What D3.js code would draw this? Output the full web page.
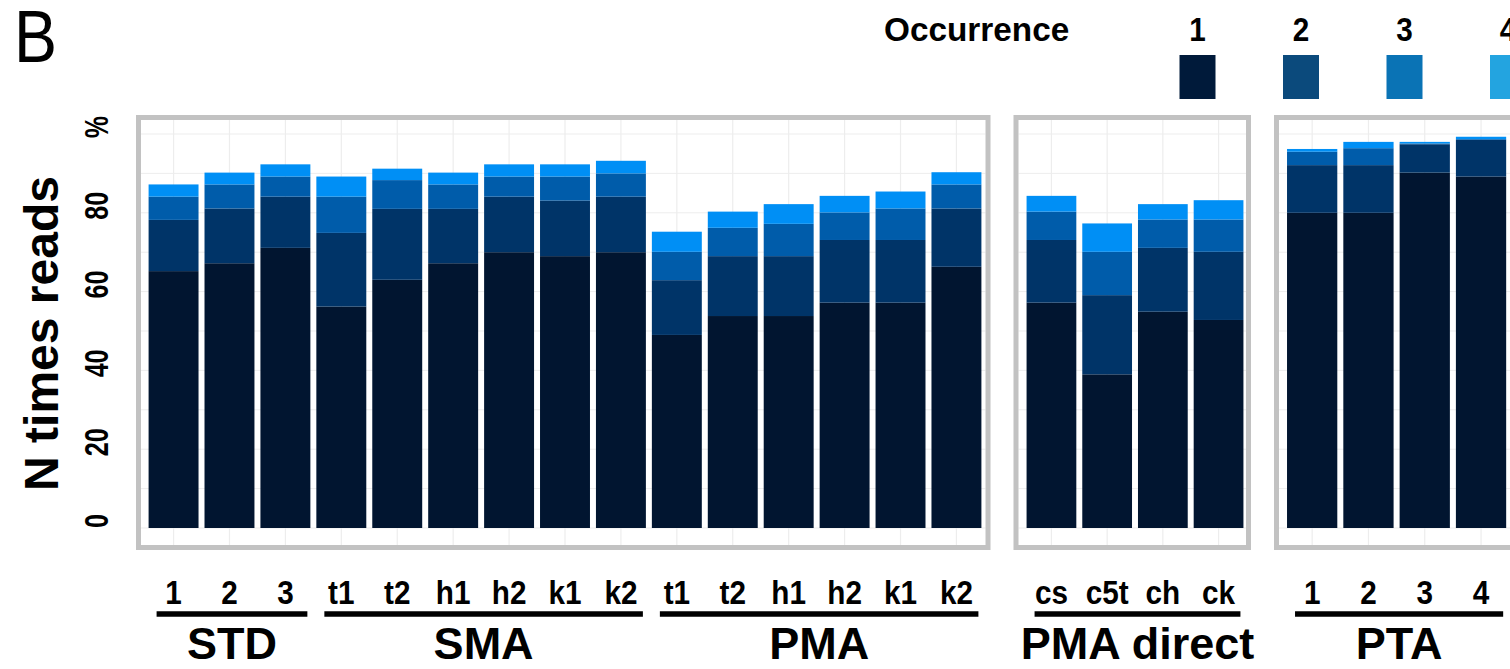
<!DOCTYPE html>
<html>
<head>
<meta charset="utf-8">
<script src="https://cdn.jsdelivr.net/npm/d3@7"></script>
<style>
  html, body { margin: 0; padding: 0; background: #ffffff; overflow: hidden; }
  svg { display: block; font-family: "Liberation Sans", Arial, Helvetica, sans-serif; }
</style>
</head>
<body>
<svg id="chart" width="1510" height="669"></svg>
<script>
// ---- data -------------------------------------------------------------
// sample groups (one facet panel may hold several groups)
const groups = ["STD", "SMA", "PMA", "PMA direct", "PTA"];
const groupSamples = [
  ["1", "2", "3"],
  ["t1", "t2", "h1", "h2", "k1", "k2"],
  ["t1", "t2", "h1", "h2", "k1", "k2"],
  ["cs", "c5t", "ch", "ck"],
  ["1", "2", "3", "4"]
];
// which panel each group is drawn in
const groupPanel = [0, 0, 0, 1, 2];

// share of reads (%) seen N times, one array per occurrence level
const occurrence = ["1", "2", "3", "4"];
const occ1 = [65.2, 67.2, 71.1,  56.2, 63.0, 67.2, 70.0, 69.0, 70.0,  49.0, 53.8, 53.8, 57.2, 57.2, 66.3,  57.2, 39.0, 54.9, 52.8,  80.0, 80.0, 90.2, 89.2];
const occ2 = [13.0, 13.9, 13.0,  18.7, 18.0, 13.8, 14.1, 14.1, 14.1,  13.9, 15.2, 15.2, 15.9, 15.9, 14.8,  15.9, 20.1, 16.2, 17.3,  12.1, 12.1,  7.2,  9.3];
const occ3 = [ 5.9,  6.1,  5.1,   9.2,  7.3,  6.2,  5.1,  6.1,  5.9,   7.2,  7.2,  8.2,  7.0,  8.0,  6.1,   7.2, 11.0,  7.2,  8.2,   3.4,  4.3,  0.2,  0.2];
const occ4 = [ 3.1,  3.0,  3.1,   5.1,  2.9,  3.0,  3.1,  3.1,  3.2,   5.1,  4.1,  5.0,  4.2,  4.3,  3.1,   4.0,  7.2,  3.9,  4.9,   0.7,  1.6,  0.4,  0.6];
const yTicks = [0, 20, 40, 60, 80, 100];
const yTickLabels = ["0", "20", "40", "60", "80", "%"];

// ---- styles -----------------------------------------------------------
const barColors = ["#011530", "#003468", "#005caa", "#008ff5"];
const keyColors = ["#001a3a", "#0b4a7c", "#0a73b5", "#23a4e0"];
const frameColor = "#c2c2c2";
const gridColor = "#ededed";

// ---- layout -----------------------------------------------------------
const svg = d3.select("#chart");
const panelTop = 117.5, panelBottom = 547.5;
const panelFrames = [[138.5, 988], [1016, 1248.5], [1276.5, 1516]];
const panelBandRanges = [[143, 987], [1021, 1249], [1281.4, 1511.8]];

const y = d3.scaleLinear().domain([0, 100]).range([528, 134]);

// rows: one per bar, with its group / panel
const rows = [];
let k = 0;
groups.forEach((g, gi) => {
  groupSamples[gi].forEach(s => {
    rows.push({ id: k, group: g, gi, sample: s, panel: groupPanel[gi],
                vals: [occ1[k], occ2[k], occ3[k], occ4[k]] });
    k++;
  });
});

// one band scale per panel
const xScales = panelFrames.map((_, pi) => {
  const ids = rows.filter(r => r.panel === pi).map(r => r.id);
  return d3.scaleBand().domain(ids).range(panelBandRanges[pi])
    .paddingInner(0.107).paddingOuter(0.1);
});
const xOf = r => xScales[r.panel](r.id);
const bw = r => xScales[r.panel].bandwidth();

// stacked layers
const stack = d3.stack().keys([0, 1, 2, 3]).value((d, key) => d.vals[key]);
const series = stack(rows);

// text helper: squeezes the glyphs a little along the writing direction
function label(parent, txt, x, yy, opts) {
  const o = Object.assign({ size: 30, weight: "bold", anchor: "middle", sx: 1, rot: 0 }, opts || {});
  return parent.append("text")
    .attr("transform", `translate(${x},${yy}) rotate(${o.rot}) scale(${o.sx},1)`)
    .attr("text-anchor", o.anchor)
    .attr("font-size", o.size)
    .attr("font-weight", o.weight)
    .attr("fill", "#000")
    .text(txt);
}

// ---- panels: grid + frames ----------------------------------------------
panelFrames.forEach((f, pi) => {
  const g = svg.append("g");
  const inner = [f[0] + 2.5, f[1] - 2.5];
  // horizontal grid every 10 %
  d3.range(0, 101, 10).forEach(v => {
    g.append("line").attr("x1", inner[0]).attr("x2", inner[1])
      .attr("y1", y(v)).attr("y2", y(v))
      .attr("stroke", gridColor).attr("stroke-width", 1);
  });
  // vertical grid at bar centres
  const xs = xScales[pi];
  xs.domain().forEach(id => {
    const cx = xs(id) + xs.bandwidth() / 2;
    g.append("line").attr("x1", cx).attr("x2", cx)
      .attr("y1", panelTop + 2.5).attr("y2", panelBottom - 2.5)
      .attr("stroke", gridColor).attr("stroke-width", 1.2);
  });
});

// ---- bars ---------------------------------------------------------------
svg.append("g").selectAll("g")
  .data(series)
  .join("g")
  .attr("fill", (d, i) => barColors[i])
  .selectAll("rect")
  .data(d => d)
  .join("rect")
  .attr("x", d => xOf(d.data))
  .attr("width", d => bw(d.data))
  .attr("y", d => y(d[1]))
  .attr("height", d => y(d[0]) - y(d[1]));

// frames on top
panelFrames.forEach(f => {
  svg.append("rect")
    .attr("x", f[0]).attr("y", panelTop)
    .attr("width", f[1] - f[0]).attr("height", panelBottom - panelTop)
    .attr("fill", "none").attr("stroke", frameColor).attr("stroke-width", 5);
});

// ---- y axis -------------------------------------------------------------
const yAxis = svg.append("g");
yTicks.forEach((t, i) => {
  label(yAxis, yTickLabels[i], 108, y(t) - 7, { size: 33, rot: -90, sx: 0.76 });
});
label(svg, "N times reads", 58, 333.5, { size: 48, rot: -90 });

// ---- x labels: sample names, group rules, group names ------------------
const xLab = svg.append("g");
rows.forEach(r => {
  label(xLab, r.sample, xOf(r) + bw(r) / 2, 604, { size: 33, sx: 0.9 });
});
groups.forEach((g, gi) => {
  const rs = rows.filter(r => r.gi === gi);
  const x0 = xOf(rs[0]) + 8;
  const x1 = xOf(rs[rs.length - 1]) + bw(rs[rs.length - 1]) - 3;
  xLab.append("line").attr("x1", x0).attr("x2", x1)
    .attr("y1", 614).attr("y2", 614)
    .attr("stroke", "#000").attr("stroke-width", 5.5);
  label(xLab, g, (x0 + x1) / 2, 659, { size: 45 });
});

// ---- legend -------------------------------------------------------------
const legend = svg.append("g");
label(legend, "Occurrence", 884, 41, { size: 34, anchor: "start", sx: 0.98 });
const keyX = d3.scalePoint().domain(occurrence).range([1197.5, 1508]);
occurrence.forEach((o, i) => {
  label(legend, o, keyX(o), 41, { size: 33, sx: 0.9 });
  legend.append("rect")
    .attr("x", keyX(o) - 18).attr("y", 55)
    .attr("width", 36).attr("height", 44)
    .attr("fill", keyColors[i]);
});

// panel letter
label(svg, "B", 14, 62, { size: 75, weight: "normal", anchor: "start", sx: 0.86 });
</script>
</body>
</html>
